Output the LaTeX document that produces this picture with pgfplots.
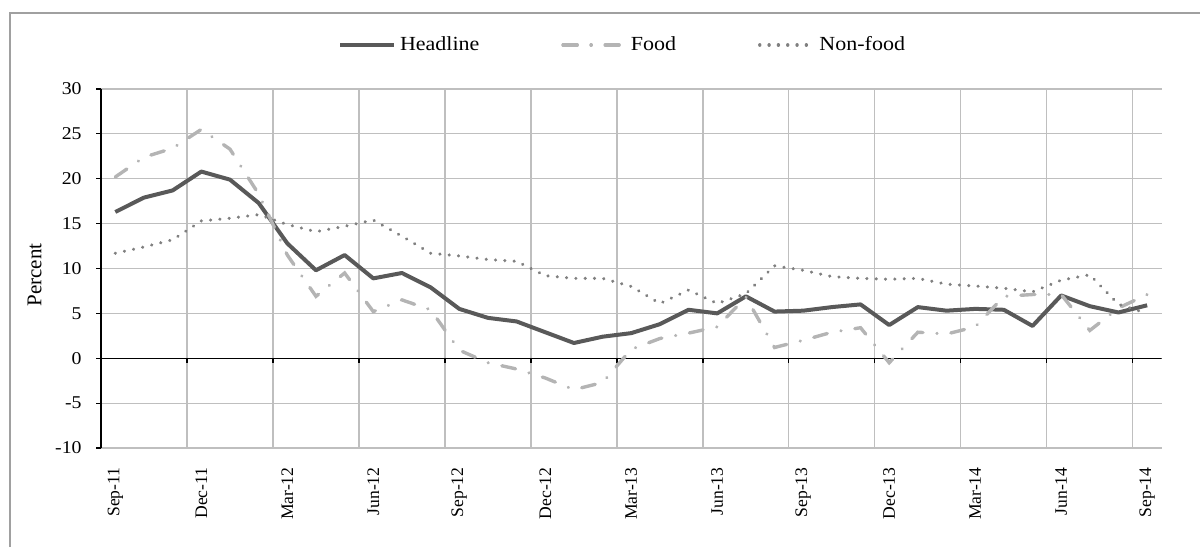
\documentclass[border=0pt]{standalone}
\usepackage{fontspec}
\setmainfont{Liberation Serif}[FakeStretch=1.1]
\newfontfamily\rotfont{Liberation Serif}
\usepackage{pgfplots}
\usepackage{pgfplotstable}
\pgfplotsset{compat=1.18}

\definecolor{headcol}{RGB}{89,89,89}
\definecolor{foodcol}{RGB}{180,180,180}
\definecolor{nonfoodcol}{RGB}{128,128,128}
\definecolor{gridcol}{RGB}{191,191,191}
\definecolor{framecol}{RGB}{160,160,160}

\pgfplotsset{
  longline/.style={legend image code/.code={\draw[##1] (0pt,0pt) -- (27pt,0pt);}},
  shortline/.style={legend image code/.code={\draw[##1] (0pt,0pt) -- (16pt,0pt); \path (0pt,0pt) -- (31pt,0pt);}},
}

% month index 0 = Sep-11 ... 36 = Sep-14
\pgfplotstableread{
idx headline food nonfood
0  16.3 20.2 11.7
1  17.9 22.4 12.4
2  18.7 23.4 13.2
3  20.8 25.5 15.3
4  19.9 23.3 15.6
5  17.3 18.3 16.0
6  12.8 11.5 14.9
7  9.8  6.9  14.1
8  11.5 9.5  14.7
9  8.9  5.2  15.4
10 9.5  6.5  13.6
11 7.9  5.4  11.7
12 5.5  0.9  11.4
13 4.5  -0.5 11.0
14 4.1  -1.2 10.8
15 2.9  -2.2 9.2
16 1.7  -3.5 8.9
17 2.4  -2.7 8.9
18 2.8  1.0  8.0
19 3.8  2.2  6.1
20 5.4  2.8  7.6
21 5.0  3.5  6.1
22 6.9  6.8  7.2
23 5.2  1.2  10.3
24 5.3  2.0  9.8
25 5.7  2.9  9.1
26 6.0  3.4  8.9
27 3.7  -0.5 8.8
28 5.7  2.9  8.9
29 5.3  2.7  8.25
30 5.5  3.5  8.05
31 5.4  6.9  7.8
32 3.6  7.1  7.4
33 7.0  7.1  8.7
34 5.8  3.1  9.3
35 5.1  5.6  6.0
36 5.9  7.1  5.0
}\datatable

\begin{document}
\begin{tikzpicture}
\useasboundingbox (0,0) rectangle (600pt,273.5pt);
\draw[framecol, line width=0.6pt] (5pt,0pt) -- (5pt,267pt) -- (600pt,267pt);
\begin{axis}[
  at={(50.5pt,49.5pt)}, anchor=south west,
  scale only axis,
  width=530.25pt, height=179.5pt,
  xmin=-0.5, xmax=36.5,
  ymin=-10, ymax=30,
  axis x line*=bottom,
  axis y line*=left,
  x axis line style={gridcol, line width=0.6pt},
  y axis line style={black, line width=0.6pt},
  xtick={0,3,...,36},
  xticklabels={Sep-11,Dec-11,Mar-12,Jun-12,Sep-12,Dec-12,Mar-13,Jun-13,Sep-13,Dec-13,Mar-14,Jun-14,Sep-14},
  xtick style={draw=none},
  ytick={-10,-5,...,30},
  yticklabels={-10,-5,0,5,10,15,20,25,30},
  ytick style={black, line width=0.6pt},
  tick align=outside,
  major tick length=2.5pt,
  ymajorgrids=true,
  major grid style={gridcol, line width=0.6pt},
  xticklabel style={rotate=90, anchor=east, inner sep=0pt, font=\rotfont\fontsize{8.8}{9}\selectfont},
  xticklabel shift=7pt,
  yticklabel style={anchor=east, inner sep=0pt, font=\fontsize{9}{9}\selectfont},
  yticklabel shift=7pt,
  ylabel={Percent},
  ylabel style={at={(axis description cs:-0.0627,0.482)}, anchor=center, font=\rotfont\fontsize{10.5}{11}\selectfont},
  legend columns=3,
  legend cell align=left,
  legend style={at={(0.4927,1.1226)}, anchor=center, draw=none, fill=none,
    font=\fontsize{10}{10}\selectfont,
    /tikz/every even column/.append style={column sep=39pt}},
]
% vertical gridlines between quarters, and the zero line with its ticks
\pgfplotsinvokeforeach{2.5,5.5,8.5,11.5,14.5,17.5,20.5,23.5,26.5,29.5,32.5,35.5}{
  \draw[gridcol, line width=0.6pt] (axis cs:#1,-10) -- (axis cs:#1,30);
}
\draw[black, line width=0.6pt] (axis cs:-0.5,0) -- (axis cs:36.5,0);
\pgfplotsinvokeforeach{2.5,5.5,8.5,11.5,14.5,17.5,20.5,23.5,26.5,29.5,32.5,35.5}{
  \draw[black, line width=0.6pt] (axis cs:#1,0) -- (axis cs:#1,-0.56);
}
\addplot[headcol, line width=2pt, line join=round, longline] table[x=idx, y=headline] {\datatable};
\addplot[foodcol, line width=1.7pt, line cap=round, dash pattern=on 7pt off 7pt on 0.01pt off 7pt, shortline]
  table[x=idx, y=food] {\datatable};
\addplot[nonfoodcol, line width=1.7pt, line cap=round, dash pattern=on 0.01pt off 4.65pt, longline] table[x=idx, y=nonfood] {\datatable};
\legend{Headline, Food, Non-food}
\end{axis}
\end{tikzpicture}
\end{document}
